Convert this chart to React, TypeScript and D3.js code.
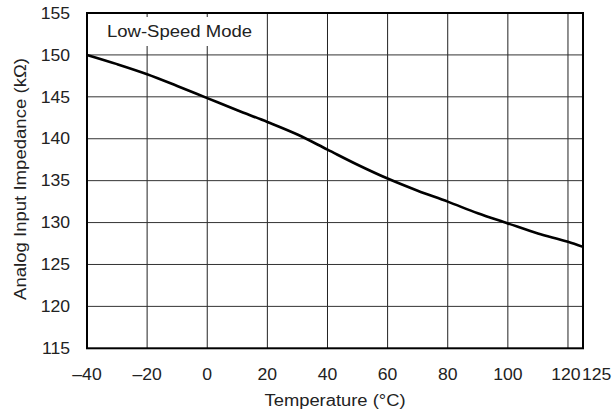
import React from "react";
import * as d3 from "d3";

const temps = [-40, -30, -20, -10, 0, 10, 20, 30, 40, 50, 60, 70, 80, 90, 100, 110, 120, 125];
const impedance = [150.0, 148.9, 147.7, 146.3, 144.85, 143.4, 142.0, 140.5, 138.7, 136.9, 135.25, 133.8, 132.5, 131.1, 129.9, 128.7, 127.7, 127.1];
const xTicks = [-40, -20, 0, 20, 40, 60, 80, 100, 120, 125];
const xGrid = [-20, 0, 20, 40, 60, 80, 100, 120];
const yTicks = [115, 120, 125, 130, 135, 140, 145, 150, 155];
const annotation = "Low-Speed Mode";
const xTitle = "Temperature (°C)";
const yTitle = "Analog Input Impedance (kΩ)";

const W = 615, H = 415;
const L = 87, R = 583, T = 13, B = 348.3;
const FONT = "'Liberation Sans', Arial, Helvetica, sans-serif";
const TXT = "#222";

const fmt = (v: number) => (v < 0 ? "\u2013" + Math.abs(v) : String(v));

export default function App() {
  const x = d3.scaleLinear().domain([-40, 125]).range([L, R]);
  const y = d3.scaleLinear().domain([115, 155]).range([B, T]);
  const line = d3
    .line<number>()
    .x((_, i) => x(temps[i]))
    .y((d) => y(d))
    .curve(d3.curveMonotoneX);
  const path = line(impedance) || "";

  return (
    <svg width={W} height={H} style={{ position: "absolute", left: 0, top: 0, background: "#fff" }} fontFamily={FONT}>
      <rect x={0} y={0} width={W} height={H} fill="#fff" />
      {xGrid.map((t) => (
        <line key={"gx" + t} x1={x(t)} x2={x(t)} y1={T} y2={B} stroke="#222" strokeWidth={1} />
      ))}
      {yTicks.slice(1, -1).map((t) => (
        <line key={"gy" + t} x1={L} x2={R} y1={y(t)} y2={y(t)} stroke="#333" strokeWidth={1} />
      ))}
      <rect x={95} y={17} width={166} height={29} fill="#fff" />
      <text x={107} y={36.5} fontSize={16} fill={TXT} textLength={145} lengthAdjust="spacingAndGlyphs">
        {annotation}
      </text>
      <path d={path} fill="none" stroke="#000" strokeWidth={2.6} />
      <rect x={L} y={T} width={R - L} height={B - T} fill="none" stroke="#000" strokeWidth={2} />
      {yTicks.map((t) => (
        <text
          key={"yt" + t}
          transform={`translate(70, ${y(t) + 5.7}) scale(1.1,1)`}
          fontSize={16}
          textAnchor="end"
          fill={TXT}
        >
          {t}
        </text>
      ))}
      {xTicks.map((t) => (
        <text
          key={"xt" + t}
          transform={`translate(${t === 125 ? x(t) - 1 : t === 120 ? x(t) - 2 : x(t)}, 380) scale(1.1,1)`}
          fontSize={16}
          textAnchor={t === 125 ? "start" : "middle"}
          fill={TXT}
        >
          {fmt(t)}
        </text>
      ))}
      <text
        x={(L + R) / 2 - 70.5}
        y={406}
        fontSize={16}
        fill={TXT}
        textLength={141}
        lengthAdjust="spacingAndGlyphs"
      >
        {xTitle}
      </text>
      <text
        transform={`translate(26, ${179 + 121}) rotate(-90)`}
        fontSize={16}
        fill={TXT}
        textLength={242}
        lengthAdjust="spacingAndGlyphs"
      >
        {yTitle}
      </text>
    </svg>
  );
}
